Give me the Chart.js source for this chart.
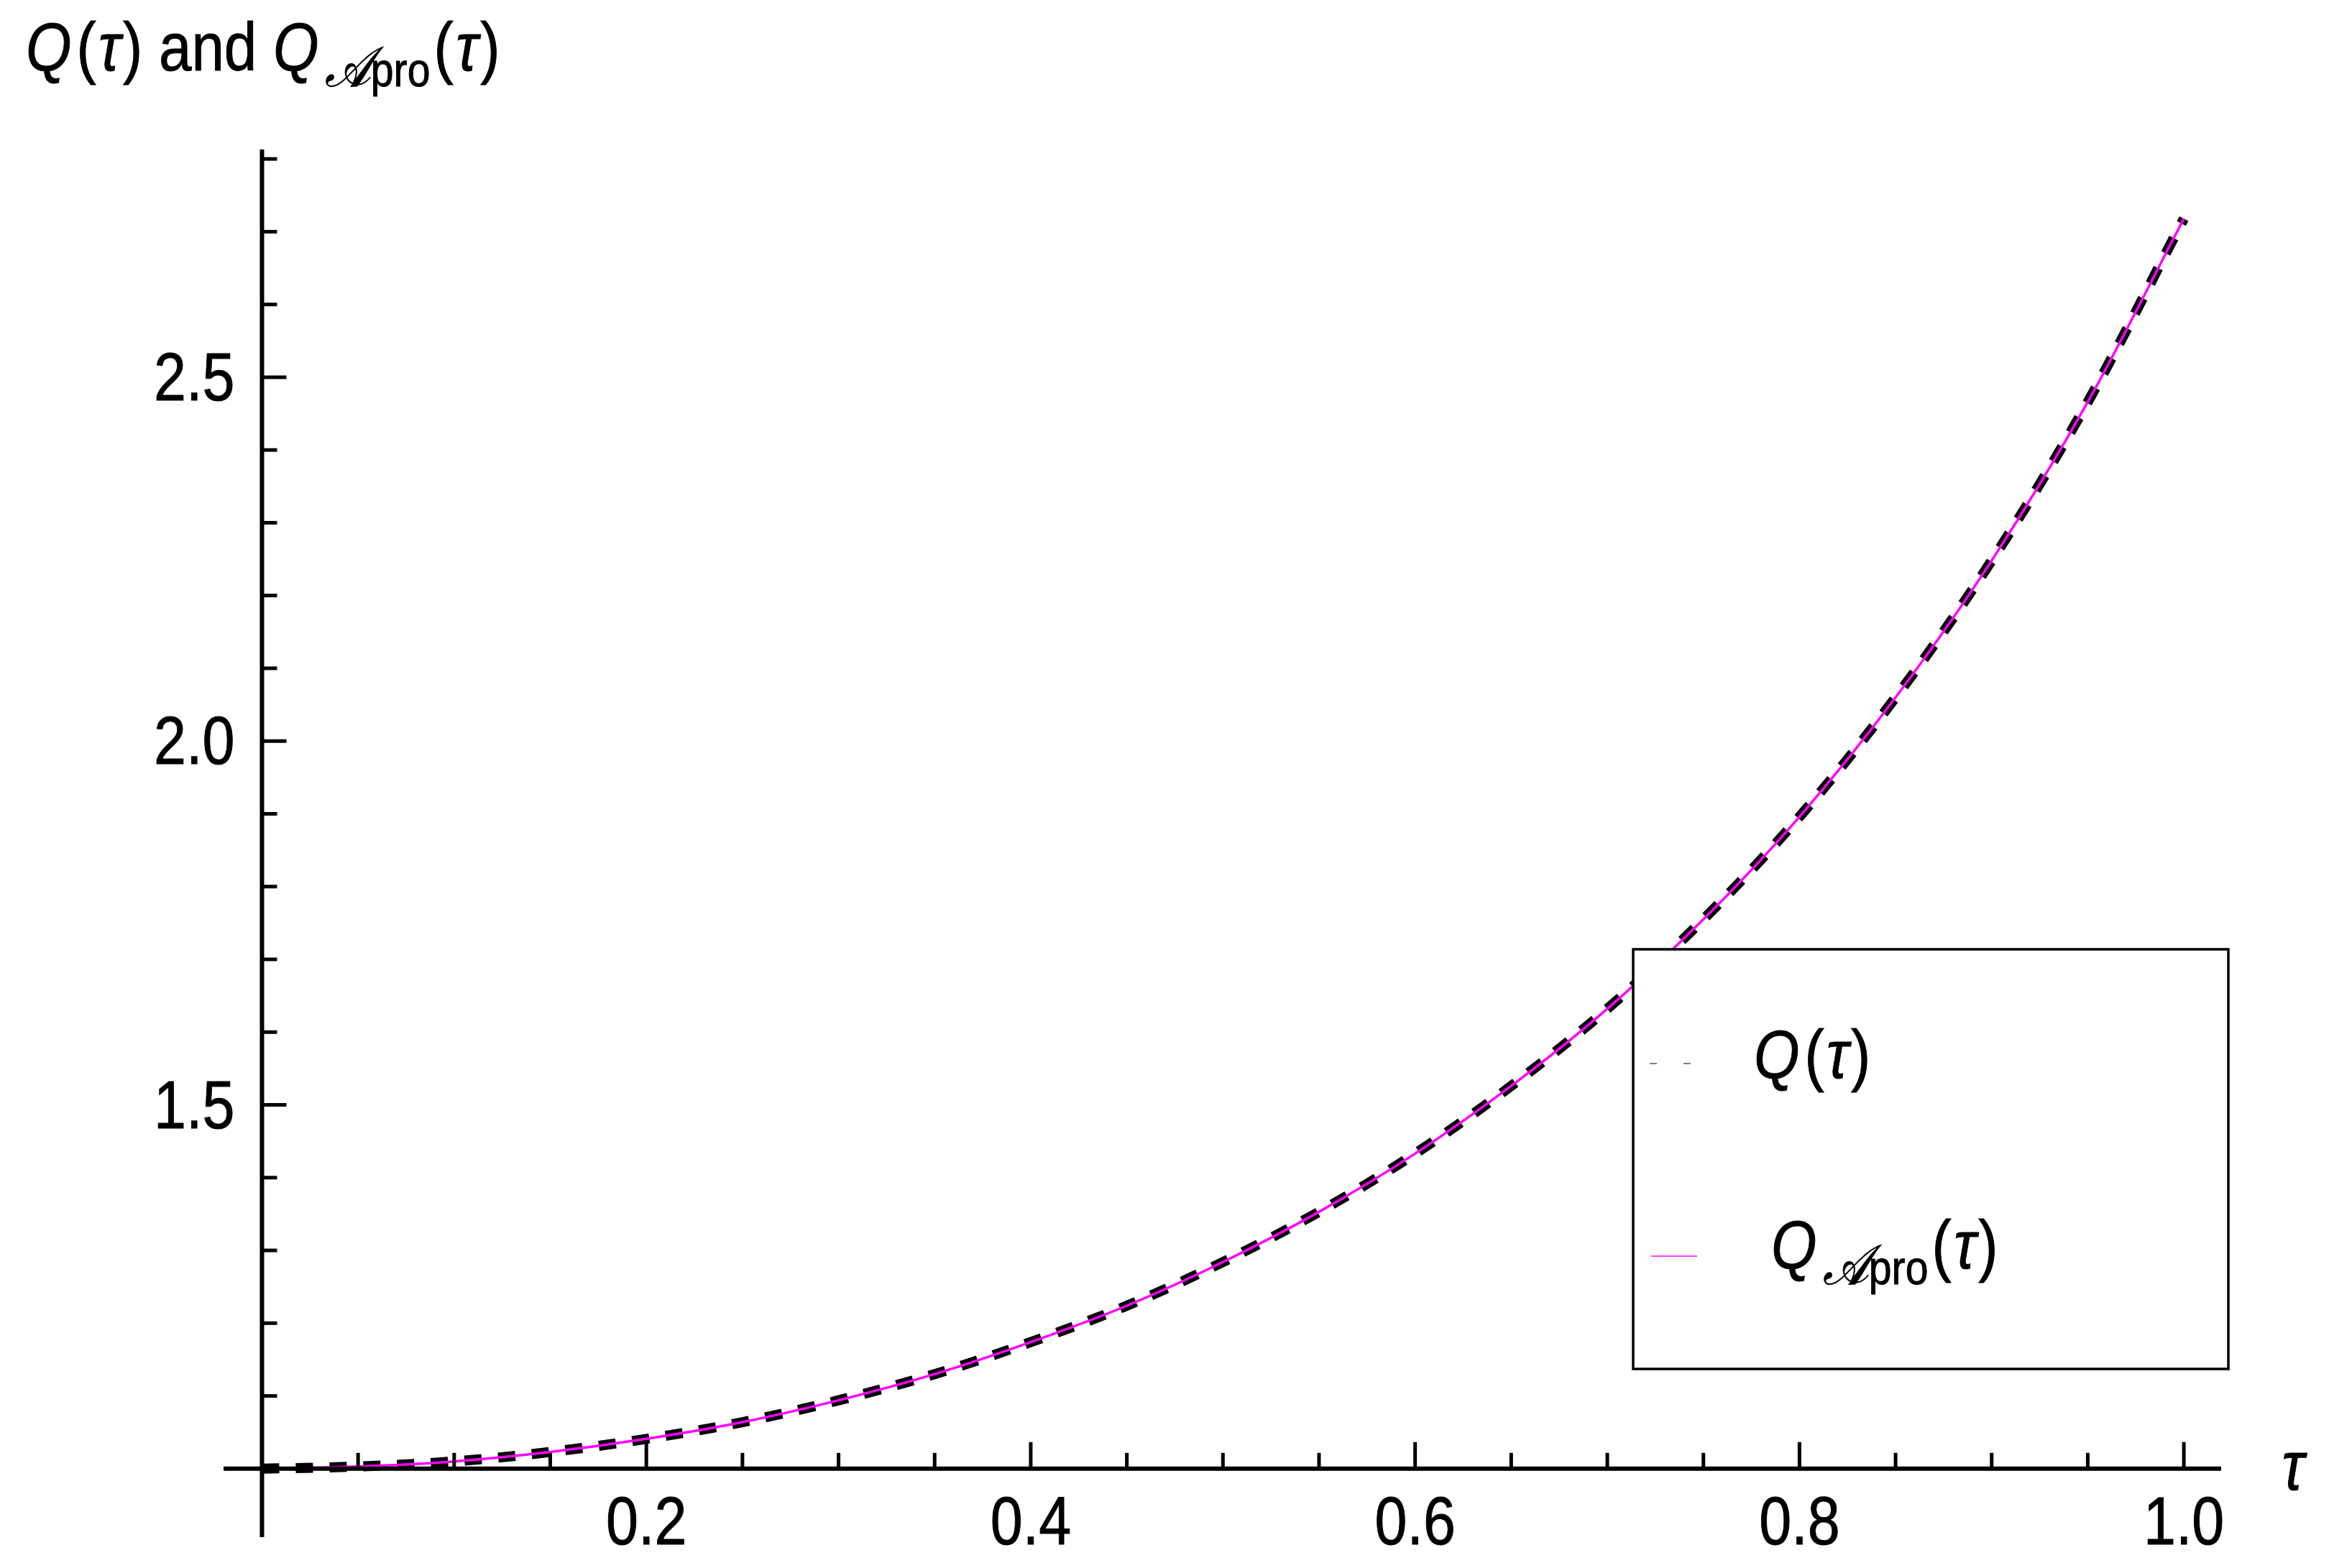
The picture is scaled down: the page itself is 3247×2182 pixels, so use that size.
<!DOCTYPE html>
<html>
<head>
<meta charset="utf-8">
<script src="https://cdn.jsdelivr.net/npm/chart.js@4.4.1/dist/chart.umd.min.js"></script>
<style>
  html, body { margin: 0; padding: 0; background: #fff; }
  #wrap { width: 3247px; height: 2182px; }
</style>
</head>
<body>
<div id="wrap"><canvas id="chart" width="3247" height="2182"></canvas></div>
<script>
// values
var tau = [0, 0.05, 0.1, 0.15, 0.2, 0.25, 0.3, 0.35, 0.4, 0.45, 0.5,
  0.55, 0.6, 0.65, 0.7, 0.75, 0.8, 0.85, 0.9, 0.95, 1.0];
var qValues = [1.000, 1.003, 1.010, 1.023, 1.041, 1.064, 1.094, 1.130, 1.174, 1.224, 1.284,
  1.353, 1.433, 1.526, 1.632, 1.755, 1.896, 2.060, 2.248, 2.466, 2.718];
var qAproValues = [1.000, 1.003, 1.010, 1.023, 1.041, 1.064, 1.094, 1.130, 1.174, 1.224, 1.284,
  1.353, 1.433, 1.526, 1.632, 1.755, 1.896, 2.060, 2.248, 2.466, 2.718];

// ticks
var xMajorTicks = [0.2, 0.4, 0.6, 0.8, 1.0];
var xTickLabels = ["0.2", "0.4", "0.6", "0.8", "1.0"];
var xMinorTicks = [0.05, 0.1, 0.15, 0.25, 0.3, 0.35, 0.45, 0.5, 0.55, 0.65, 0.7, 0.75, 0.85, 0.9, 0.95];
var yMajorTicks = [1.5, 2.0, 2.5];
var yTickLabels = ["1.5", "2.0", "2.5"];
var yMinorTicks = [1.1, 1.2, 1.3, 1.4, 1.6, 1.7, 1.8, 1.9, 2.1, 2.2, 2.3, 2.4, 2.6, 2.7, 2.8];

var FAMILY = '"Liberation Sans", Arial, sans-serif';
var SQUEEZE = 0.86; // labels in the picture are a bit narrow

// draw a row of text pieces (italic / subscript) on one baseline
function drawRuns(ctx, x, y, runs, align) {
  ctx.save();
  ctx.translate(x, y);
  ctx.scale(SQUEEZE, 1);
  ctx.fillStyle = "#000";
  ctx.strokeStyle = "#000";
  ctx.lineWidth = 1;
  ctx.textBaseline = "alphabetic";
  ctx.textAlign = "left";
  var total = 0;
  runs.forEach(function (r) {
    ctx.font = (r.italic ? "italic " : "") + r.size + "px " + FAMILY;
    r.w = ctx.measureText(r.t).width;
    total += r.w + (r.gap || 0);
  });
  var cx = 0;
  if (align === "right") cx = -total;
  if (align === "center") cx = -total / 2;
  runs.forEach(function (r) {
    ctx.font = (r.italic ? "italic " : "") + r.size + "px " + FAMILY;
    ctx.fillText(r.t, cx, r.dy || 0);
    ctx.strokeText(r.t, cx, r.dy || 0);
    cx += r.w + (r.gap || 0);
  });
  ctx.restore();
}

function qTau(size) {
  return [
    { t: "Q", italic: true, size: size, gap: 8 },
    { t: "(", size: size, gap: 4 },
    { t: "\u03C4", italic: true, size: size, gap: 4 },
    { t: ")", size: size }
  ];
}
function qAproTau(size) {
  return [
    { t: "Q", italic: true, size: size, gap: 10 },
    { t: "\uD835\uDC9C", italic: true, size: size * 0.82, dy: 22 },
    { t: "pro", size: size * 0.7, dy: 22, gap: 6 },
    { t: "(", size: size, gap: 4 },
    { t: "\u03C4", italic: true, size: size, gap: 4 },
    { t: ")", size: size }
  ];
}

function line(ctx, x1, y1, x2, y2) {
  ctx.beginPath();
  ctx.moveTo(x1, y1);
  ctx.lineTo(x2, y2);
  ctx.stroke();
}

var axesPlugin = {
  id: "mmaAxes",
  afterDatasetsDraw: function (chart) {
    var ctx = chart.ctx, area = chart.chartArea;
    var xs = chart.scales.x, ys = chart.scales.y;
    var x0 = xs.getPixelForValue(0), y0 = ys.getPixelForValue(1);
    ctx.save();
    ctx.strokeStyle = "#000";
    ctx.lineCap = "butt";
    ctx.lineWidth = 6;
    line(ctx, area.left, y0, area.right, y0);
    line(ctx, x0, area.top, x0, area.bottom);

    ctx.lineWidth = 5;
    xMajorTicks.forEach(function (v) {
      var px = xs.getPixelForValue(v);
      line(ctx, px, y0, px, y0 - 37);
    });
    xMinorTicks.forEach(function (v) {
      var px = xs.getPixelForValue(v);
      line(ctx, px, y0, px, y0 - 22);
    });
    yMajorTicks.forEach(function (v) {
      var py = ys.getPixelForValue(v);
      line(ctx, x0, py, x0 + 34, py);
    });
    yMinorTicks.forEach(function (v) {
      var py = ys.getPixelForValue(v);
      line(ctx, x0, py, x0 + 21, py);
    });
    ctx.restore();

    xMajorTicks.forEach(function (v, i) {
      drawRuns(ctx, xs.getPixelForValue(v), y0 + 105, [{ t: xTickLabels[i], size: 94 }], "center");
    });
    yMajorTicks.forEach(function (v, i) {
      drawRuns(ctx, x0 - 38, ys.getPixelForValue(v) + 32, [{ t: yTickLabels[i], size: 94 }], "right");
    });
    // axis label
    drawRuns(ctx, 3190, y0 + 29, [{ t: "\u03C4", italic: true, size: 96 }], "center");
  }
};

var legendPlugin = {
  id: "mmaLegend",
  afterDraw: function (chart) {
    var ctx = chart.ctx;
    var bx = 2272, by = 1321, bw = 828, bh = 584;
    ctx.save();
    ctx.fillStyle = "#fff";
    ctx.fillRect(bx, by, bw, bh);
    ctx.strokeStyle = "#000";
    ctx.lineWidth = 3.5;
    ctx.strokeRect(bx, by, bw, bh);

    ctx.strokeStyle = "#555";
    ctx.lineWidth = 1.5;
    ctx.setLineDash([10, 37]);
    line(ctx, 2295, 1480, 2355, 1480);
    ctx.setLineDash([]);
    ctx.strokeStyle = chart.data.datasets[1].borderColor;
    ctx.lineWidth = 1.5;
    line(ctx, 2297, 1748, 2361, 1748);
    ctx.restore();

    drawRuns(ctx, 2440, 1500, qTau(95), "left");
    drawRuns(ctx, 2464, 1765, qAproTau(95), "left");

    // plot label in the top-left corner
    var title = qTau(95);
    title.push({ t: " and ", size: 95 });
    drawRuns(ctx, 36, 98, title.concat(qAproTau(95)), "left");
  }
};

var chartCanvas = document.getElementById("chart").getContext("2d");

new Chart(chartCanvas, {
  type: "line",
  data: {
    datasets: [
      {
        label: "Q(\u03C4)",
        data: tau.map(function (t, i) { return { x: t, y: qValues[i] }; }),
        borderColor: "#000000",
        borderWidth: 14,
        borderDash: [24, 23],
        borderCapStyle: "butt",
        pointRadius: 0,
        fill: false,
        cubicInterpolationMode: "monotone",
        order: 2
      },
      {
        label: "Q_Apro(\u03C4)",
        data: tau.map(function (t, i) { return { x: t, y: qAproValues[i] }; }),
        borderColor: "#FF00FF",
        borderWidth: 3.5,
        pointRadius: 0,
        fill: false,
        cubicInterpolationMode: "monotone",
        order: 1
      }
    ]
  },
  options: {
    responsive: false,
    animation: false,
    events: [],
    layout: { padding: { left: 311, right: 157, top: 208, bottom: 43 } },
    scales: {
      x: { type: "linear", min: -0.02, max: 1.0194, display: false },
      y: { type: "linear", min: 0.906, max: 2.813, display: false }
    },
    plugins: {
      legend: { display: false },
      tooltip: { enabled: false }
    }
  },
  plugins: [axesPlugin, legendPlugin]
});
</script>
</body>
</html>
